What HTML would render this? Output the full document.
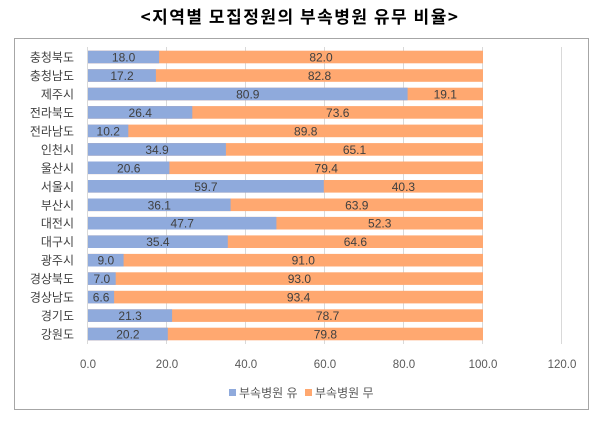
<!DOCTYPE html>
<html><head><meta charset="utf-8"><style>
body{margin:0;background:#fff;width:601px;height:422px;overflow:hidden;}
</style></head><body>
<svg width="601" height="422" xmlns="http://www.w3.org/2000/svg" font-family="Liberation Sans, Noto Sans CJK KR, sans-serif">
<text x="300" y="23" text-anchor="middle" font-size="17" letter-spacing="1.5" font-weight="bold" fill="#000" font-family="Noto Sans CJK KR, sans-serif">&lt;지역별 모집정원의 부속병원 유무 비율&gt;</text>
<rect x="14.5" y="38.5" width="574" height="371" fill="#fff" stroke="#a6a6a6" stroke-width="1"/>
<g stroke="#d9d9d9" stroke-width="1">
<line x1="87.5" y1="47" x2="87.5" y2="344"/>
<line x1="166.5" y1="47" x2="166.5" y2="344"/>
<line x1="245.5" y1="47" x2="245.5" y2="344"/>
<line x1="324.5" y1="47" x2="324.5" y2="344"/>
<line x1="403.5" y1="47" x2="403.5" y2="344"/>
<line x1="482.5" y1="47" x2="482.5" y2="344"/>
<line x1="561.5" y1="47" x2="561.5" y2="344"/>
</g>
<g font-size="12" fill="#404040" text-anchor="middle">
<g transform="translate(0,57)"><rect x="88" y="-6.3" width="395" height="12.6" fill="#ffa870"/><rect x="88" y="-6.3" width="71.1" height="12.6" fill="#8faadc"/><text x="123.6" y="4.5">18.0</text><text x="321" y="4.5">82.0</text><text x="74" y="4.5" text-anchor="end">충청북도</text></g>
<g transform="translate(0,75.5)"><rect x="88" y="-6.3" width="395" height="12.6" fill="#ffa870"/><rect x="88" y="-6.3" width="67.9" height="12.6" fill="#8faadc"/><text x="122" y="4.5">17.2</text><text x="319.5" y="4.5">82.8</text><text x="74" y="4.5" text-anchor="end">충청남도</text></g>
<g transform="translate(0,94)"><rect x="88" y="-6.3" width="395" height="12.6" fill="#ffa870"/><rect x="88" y="-6.3" width="319.6" height="12.6" fill="#8faadc"/><text x="247.8" y="4.5">80.9</text><text x="445.3" y="4.5">19.1</text><text x="74" y="4.5" text-anchor="end">제주시</text></g>
<g transform="translate(0,112.4)"><rect x="88" y="-6.3" width="395" height="12.6" fill="#ffa870"/><rect x="88" y="-6.3" width="104.3" height="12.6" fill="#8faadc"/><text x="140.2" y="4.5">26.4</text><text x="337.7" y="4.5">73.6</text><text x="74" y="4.5" text-anchor="end">전라북도</text></g>
<g transform="translate(0,130.9)"><rect x="88" y="-6.3" width="395" height="12.6" fill="#ffa870"/><rect x="88" y="-6.3" width="40.3" height="12.6" fill="#8faadc"/><text x="108.2" y="4.5">10.2</text><text x="305.7" y="4.5">89.8</text><text x="74" y="4.5" text-anchor="end">전라남도</text></g>
<g transform="translate(0,149.4)"><rect x="88" y="-6.3" width="395" height="12.6" fill="#ffa870"/><rect x="88" y="-6.3" width="137.9" height="12.6" fill="#8faadc"/><text x="157" y="4.5">34.9</text><text x="354.5" y="4.5">65.1</text><text x="74" y="4.5" text-anchor="end">인천시</text></g>
<g transform="translate(0,167.8)"><rect x="88" y="-6.3" width="395" height="12.6" fill="#ffa870"/><rect x="88" y="-6.3" width="81.4" height="12.6" fill="#8faadc"/><text x="128.7" y="4.5">20.6</text><text x="326.2" y="4.5">79.4</text><text x="74" y="4.5" text-anchor="end">울산시</text></g>
<g transform="translate(0,186.3)"><rect x="88" y="-6.3" width="395" height="12.6" fill="#ffa870"/><rect x="88" y="-6.3" width="235.8" height="12.6" fill="#8faadc"/><text x="205.9" y="4.5">59.7</text><text x="403.4" y="4.5">40.3</text><text x="74" y="4.5" text-anchor="end">서울시</text></g>
<g transform="translate(0,204.8)"><rect x="88" y="-6.3" width="395" height="12.6" fill="#ffa870"/><rect x="88" y="-6.3" width="142.6" height="12.6" fill="#8faadc"/><text x="159.3" y="4.5">36.1</text><text x="356.8" y="4.5">63.9</text><text x="74" y="4.5" text-anchor="end">부산시</text></g>
<g transform="translate(0,223.2)"><rect x="88" y="-6.3" width="395" height="12.6" fill="#ffa870"/><rect x="88" y="-6.3" width="188.4" height="12.6" fill="#8faadc"/><text x="182.2" y="4.5">47.7</text><text x="379.7" y="4.5">52.3</text><text x="74" y="4.5" text-anchor="end">대전시</text></g>
<g transform="translate(0,241.7)"><rect x="88" y="-6.3" width="395" height="12.6" fill="#ffa870"/><rect x="88" y="-6.3" width="139.8" height="12.6" fill="#8faadc"/><text x="157.9" y="4.5">35.4</text><text x="355.4" y="4.5">64.6</text><text x="74" y="4.5" text-anchor="end">대구시</text></g>
<g transform="translate(0,260.2)"><rect x="88" y="-6.3" width="395" height="12.6" fill="#ffa870"/><rect x="88" y="-6.3" width="35.6" height="12.6" fill="#8faadc"/><text x="105.8" y="4.5">9.0</text><text x="303.3" y="4.5">91.0</text><text x="74" y="4.5" text-anchor="end">광주시</text></g>
<g transform="translate(0,278.6)"><rect x="88" y="-6.3" width="395" height="12.6" fill="#ffa870"/><rect x="88" y="-6.3" width="27.7" height="12.6" fill="#8faadc"/><text x="101.9" y="4.5">7.0</text><text x="299.4" y="4.5">93.0</text><text x="74" y="4.5" text-anchor="end">경상북도</text></g>
<g transform="translate(0,297.1)"><rect x="88" y="-6.3" width="395" height="12.6" fill="#ffa870"/><rect x="88" y="-6.3" width="26.1" height="12.6" fill="#8faadc"/><text x="101.1" y="4.5">6.6</text><text x="298.6" y="4.5">93.4</text><text x="74" y="4.5" text-anchor="end">경상남도</text></g>
<g transform="translate(0,315.6)"><rect x="88" y="-6.3" width="395" height="12.6" fill="#ffa870"/><rect x="88" y="-6.3" width="84.1" height="12.6" fill="#8faadc"/><text x="130.1" y="4.5">21.3</text><text x="327.6" y="4.5">78.7</text><text x="74" y="4.5" text-anchor="end">경기도</text></g>
<g transform="translate(0,334)"><rect x="88" y="-6.3" width="395" height="12.6" fill="#ffa870"/><rect x="88" y="-6.3" width="79.8" height="12.6" fill="#8faadc"/><text x="127.9" y="4.5">20.2</text><text x="325.4" y="4.5">79.8</text><text x="74" y="4.5" text-anchor="end">강원도</text></g>
</g>
<g font-size="11.5" fill="#595959" text-anchor="middle">
<text x="88" y="368">0.0</text><text x="167" y="368">20.0</text><text x="246" y="368">40.0</text><text x="325" y="368">60.0</text><text x="404" y="368">80.0</text><text x="483" y="368">100.0</text><text x="562" y="368">120.0</text>
</g>
<rect x="229" y="389" width="7" height="7" fill="#8faadc"/>
<text x="239" y="397" font-size="12" fill="#595959">부속병원 유</text>
<rect x="305" y="389" width="7" height="7" fill="#ffa870"/>
<text x="315" y="397" font-size="12" fill="#595959">부속병원 무</text>
</svg>
</body></html>
